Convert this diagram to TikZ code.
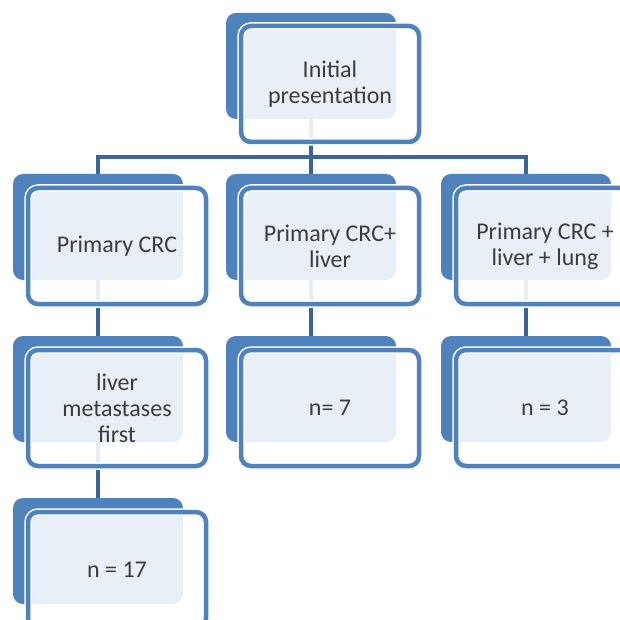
\documentclass[tikz,border=0pt]{standalone}
\usepackage{fontspec}
\setmainfont{Carlito}
\usetikzlibrary{calc}
\definecolor{boxblue}{RGB}{79,129,189}
\definecolor{linkblue}{RGB}{60,100,152}
\definecolor{textgray}{RGB}{60,60,60}
\tikzset{
    back/.style={fill=boxblue, rounded corners=10pt, minimum width=170pt, minimum height=106pt, inner sep=0pt},
    front/.style={draw=boxblue, line width=4.5pt, rounded corners=10pt, fill=white, fill opacity=0.88, text opacity=1,
        minimum width=178pt, minimum height=116pt, inner sep=0pt, align=center, text=textgray,
        font=\fontsize{24}{26}\selectfont, preaction={draw=white, line width=7.5pt}},
    link/.style={draw=linkblue, line width=3.5pt}
}

\begin{document}
\begin{tikzpicture}[x=1pt, y=-1pt]
            \useasboundingbox (0,0) rectangle (620,620);
            \clip (0,0) rectangle (620,620);
            % back plates
            \node[back] (b1) at (311,66) {};
            \node[back] (b2) at (98,227) {};
            \node[back] (b3) at (311,227) {};
            \node[back] (b4) at (526,227) {};
            \node[back] (b5) at (98,389) {};
            \node[back] (b6) at (311,389) {};
            \node[back] (b7) at (526,389) {};
            \node[back] (b8) at (98,551) {};
            % connectors
            \coordinate (bus) at (311,157);
            \draw[link] (b1.south) -- (bus) -- (b3.north);
            \draw[link] (b2.north) |- (bus) -| (b4.north);
            \draw[link] (b2.south) -- (b5.north);
            \draw[link] (b3.south) -- (b6.north);
            \draw[link] (b4.south) -- (b7.north);
            \draw[link] (b5.south) -- (b8.north);
            % front boxes
            \node[front] (f1) at ($(b1)+(19,18)$) {Initial\\presentation};
            \node[front] (f2) at ($(b2)+(19,19)$) {Primary CRC};
            \node[front] (f3) at ($(b3)+(19,19)$) {Primary CRC+\\liver};
            \node[front] (f4) at ($(b4)+(19,19)$) {Primary CRC +\\liver + lung};
            \node[front] (f5) at ($(b5)+(19,19)$) {liver\\metastases\\first};
            \node[front] (f6) at ($(b6)+(19,19)$) {n= 7};
            \node[front] (f7) at ($(b7)+(19,19)$) {n = 3};
            \node[front] (f8) at ($(b8)+(19,19)$) {n = 17};
        \end{tikzpicture}
\end{document}
